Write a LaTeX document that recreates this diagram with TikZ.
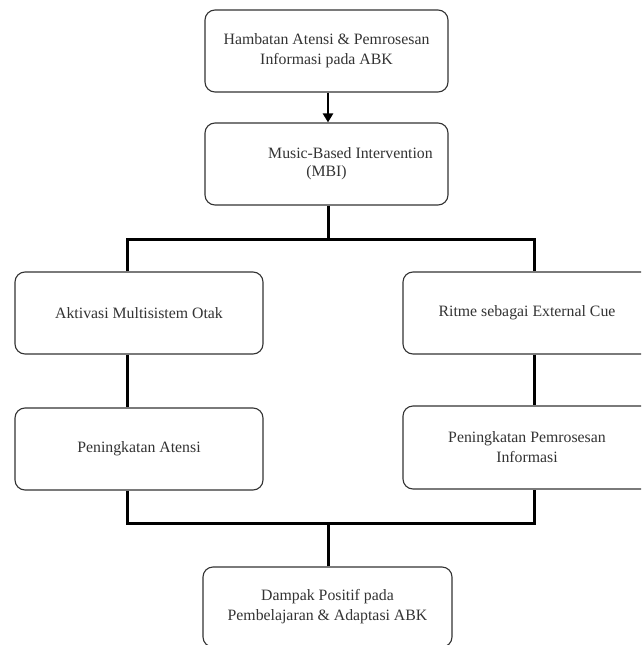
\documentclass[tikz,border=0pt]{standalone}
\usepackage{fontspec}
\setmainfont{Liberation Serif}
\usetikzlibrary{arrows.meta}
\begin{document}
\begin{tikzpicture}[x=1pt,y=-1pt,
  box/.style={draw=black!80, line width=1.1pt, rounded corners=10pt, align=center,
    inner sep=0pt, text=black!80, font=\fontsize{15.8}{20}\selectfont},
  conn/.style={draw=black, line width=3pt},
  arr/.style={draw=black, line width=2.6pt, -{Triangle[width=10pt,length=9pt]}}]
\clip (0,0) rectangle (641,645);
\fill[white] (0,0) rectangle (641,645);
\node[box, minimum width=243, minimum height=82] (hamb) at (326.5,51)
  {Hambatan Atensi \& Pemrosesan\\Informasi pada ABK};
\node[box, minimum width=243, minimum height=82, font=\fontsize{15.8}{18}\selectfont] (mbi) at (326.5,164)
  {\hspace*{48pt}Music-Based Intervention\\(MBI)};
\node[box, minimum width=248, minimum height=82] (akt) at (139,313) {Aktivasi Multisistem Otak};
\node[box, minimum width=248, minimum height=82] (pa) at (139,449) {Peningkatan Atensi};
\node[box, minimum width=248, minimum height=82] (rit) at (527,313) {Ritme sebagai External Cue};
\node[box, minimum width=248, minimum height=83] (pp) at (527,447.5) {Peningkatan Pemrosesan\\Informasi};
\node[box, minimum width=249, minimum height=80] (dp) at (327.5,607)
  {Dampak Positif pada\\Pembelajaran \& Adaptasi ABK};
\coordinate (jl) at (127,239);
\coordinate (jr) at (534,239);
\coordinate (bl) at (127,523);
\coordinate (br) at (534,523);
\draw[arr] (hamb.south -| 328,0) -- (mbi.north -| 328,0);
\draw[conn] (mbi.south -| 328,0) -- (jl -| 328,0);
\draw[conn, line join=miter] (akt.north -| jl) -- (jl) -- (jr) -- (rit.north -| jr);
\draw[conn] (akt.south -| jl) -- (pa.north -| jl);
\draw[conn] (rit.south -| jr) -- (pp.north -| jr);
\draw[conn, line join=miter] (pa.south -| bl) -- (bl) -- (br) -- (pp.south -| br);
\draw[conn] (dp.north -| 328,0) -- (bl -| 328,0);
\end{tikzpicture}
\end{document}
